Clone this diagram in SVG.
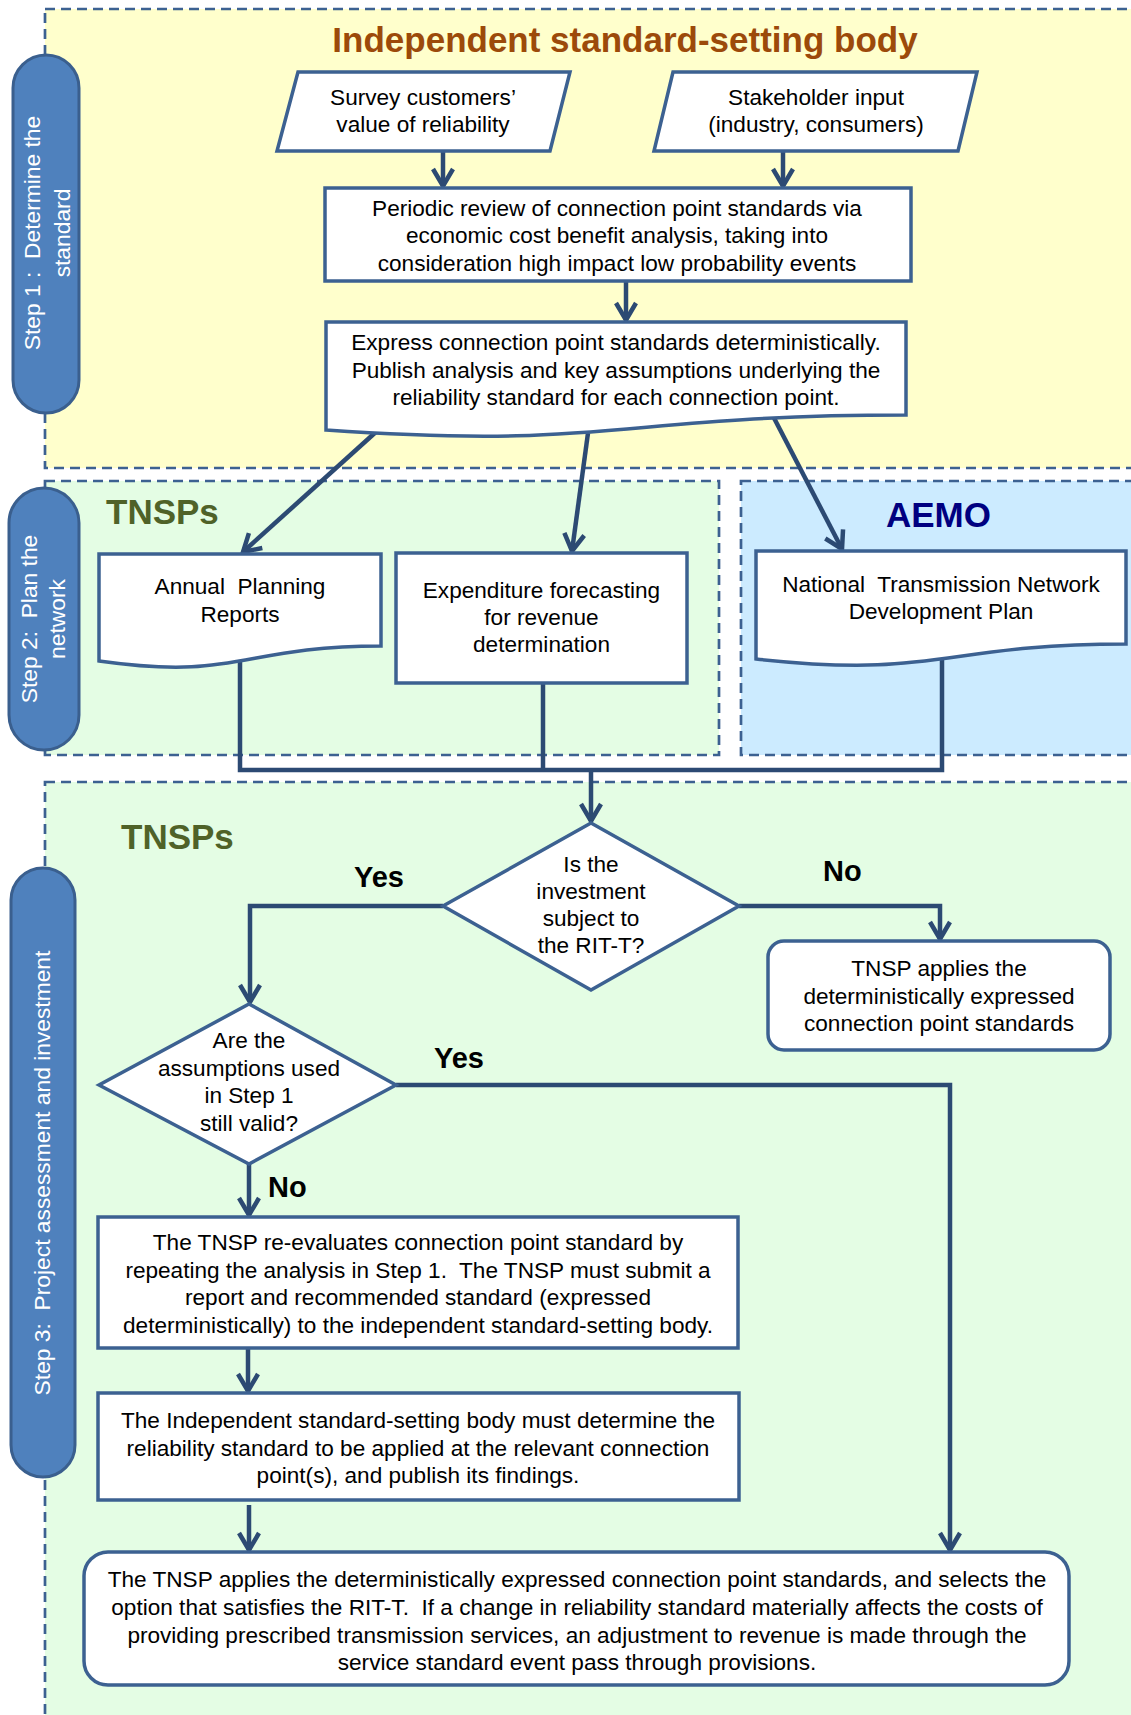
<svg xmlns="http://www.w3.org/2000/svg" width="1131" height="1715" viewBox="0 0 1131 1715">
<defs>
<style>
.region{stroke:#3C6191;stroke-width:2.7;stroke-dasharray:10 6}
.box{fill:#fff;stroke:#3C6191;stroke-width:3.5}
.pill{fill:#4F81BD;stroke:#3A5F8E;stroke-width:3}
.conn{fill:none;stroke:#2C4A73;stroke-width:4.5;stroke-linejoin:miter}
.t{font-family:"Liberation Sans",Arial,sans-serif;font-size:22.6px;fill:#000;text-anchor:middle}
.pt{font-family:"Liberation Sans",Arial,sans-serif;font-size:22.8px;fill:#fff;text-anchor:middle}
.lbl{font-family:"Liberation Sans",Arial,sans-serif;font-size:29px;font-weight:bold;fill:#000}
.hdr{font-family:"Liberation Sans",Arial,sans-serif;font-size:35px;font-weight:bold}
</style>
<marker id="arr" markerUnits="userSpaceOnUse" markerWidth="30" markerHeight="30" viewBox="-25 -15 30 30" refX="0" refY="0" orient="auto" style="overflow:visible">
<path d="M-17,-10 L0,0 L-17,10" fill="none" stroke="#2C4A73" stroke-width="4.5"/>
</marker>
</defs>
<rect width="1131" height="1715" fill="#fff"/>
<g id="regions">
<rect x="45" y="9" width="1100" height="459" fill="#FFFFCC" class="region"/>
<rect x="45" y="481" width="674" height="274" fill="#E4FDE4" class="region"/>
<rect x="741" y="481" width="400" height="274" fill="#CCEBFF" class="region"/>
<rect x="45" y="782" width="1100" height="950" fill="#E4FDE4" class="region"/>
</g>
<g id="connectors">
<path class="conn" d="M443,151 V186" marker-end="url(#arr)"/>
<path class="conn" d="M783,151 V186" marker-end="url(#arr)"/>
<path class="conn" d="M626,281 V320" marker-end="url(#arr)"/>
<path class="conn" d="M377,431 L243,552" marker-end="url(#arr)"/>
<path class="conn" d="M588,433 L572,551" marker-end="url(#arr)"/>
<path class="conn" d="M774,418 L842,549" marker-end="url(#arr)"/>
<path class="conn" d="M240,655 V770 H942 V650"/>
<path class="conn" d="M543,683 V770"/>
<path class="conn" d="M591,770 V821" marker-end="url(#arr)"/>
<path class="conn" d="M443,906 H250 V1002" marker-end="url(#arr)"/>
<path class="conn" d="M739,906 H940 V939" marker-end="url(#arr)"/>
<path class="conn" d="M396,1085 H950 V1550" marker-end="url(#arr)"/>
<path class="conn" d="M249,1164 V1215" marker-end="url(#arr)"/>
<path class="conn" d="M248,1348 V1391" marker-end="url(#arr)"/>
<path class="conn" d="M249,1505 V1550" marker-end="url(#arr)"/>
</g>
<g id="pill-step1">
<rect class="pill" x="13" y="55" width="66" height="358" rx="33"/>
<text class="pt" transform="translate(40,233) rotate(-90)"><tspan x="0" y="0">Step 1 :&#160; Determine the</tspan><tspan x="0" dy="30">standard</tspan></text>
</g>
<g id="pill-step2">
<rect class="pill" x="9" y="488" width="70" height="262" rx="35"/>
<text class="pt" transform="translate(37,619) rotate(-90)"><tspan x="0" y="0">Step 2:&#160; Plan the</tspan><tspan x="0" dy="28">network</tspan></text>
</g>
<g id="pill-step3">
<rect class="pill" x="11" y="868" width="64" height="609" rx="32"/>
<text class="pt" transform="translate(50,1173) rotate(-90)">Step 3:&#160; Project assessment and investment</text>
</g>
<g id="title">
<text class="hdr" x="625" y="52" fill="#9C4A0A" text-anchor="middle">Independent standard-setting body</text>
</g>
<g id="survey">
<polygon class="box" points="298,72 570,72 550,151 277,151"/>
<text class="t" x="423" y="105">Survey customers’</text>
<text class="t" x="423" y="132">value of reliability</text>
</g>
<g id="stakeholder">
<polygon class="box" points="673,72 977,72 958,151 654,151"/>
<text class="t" x="816" y="105">Stakeholder input</text>
<text class="t" x="816" y="132">(industry, consumers)</text>
</g>
<g id="periodic-review">
<rect class="box" x="325" y="188" width="586" height="93"/>
<text class="t" x="617" y="216">Periodic review of connection point standards via</text>
<text class="t" x="617" y="243">economic cost benefit analysis, taking into</text>
<text class="t" x="617" y="271">consideration high impact low probability events</text>
</g>
<g id="express">
<path class="box" d="M326,322 H906 V415 C616,415 616,450 326,430 Z"/>
<text class="t" x="616" y="350">Express connection point standards deterministically.</text>
<text class="t" x="616" y="378">Publish analysis and key assumptions underlying the</text>
<text class="t" x="616" y="405">reliability standard for each connection point.</text>
</g>
<g id="tnsps-label-2">
<text class="hdr" x="106" y="524" fill="#4F6228">TNSPs</text>
</g>
<g id="aemo-label">
<text class="hdr" x="886" y="527" fill="#000080">AEMO</text>
</g>
<g id="apr">
<path class="box" d="M99,554 H381 V646 C240,646 240,681 99,661 Z"/>
<text class="t" x="240" y="594">Annual&#160; Planning</text>
<text class="t" x="240" y="622">Reports</text>
</g>
<g id="expenditure">
<rect class="box" x="396" y="553" width="291" height="130"/>
<text class="t" x="541.5" y="598">Expenditure forecasting</text>
<text class="t" x="541.5" y="625">for revenue</text>
<text class="t" x="541.5" y="652">determination</text>
</g>
<g id="ntndp">
<path class="box" d="M756,551 H1126 V644 C941,644 941,679 756,659 Z"/>
<text class="t" x="941" y="592">National&#160; Transmission Network</text>
<text class="t" x="941" y="619">Development Plan</text>
</g>
<g id="tnsps-label-3">
<text class="hdr" x="121" y="849" fill="#4F6228">TNSPs</text>
</g>
<g id="decision-ritt">
<polygon class="box" points="591,823 739,906 591,990 443,906"/>
<text class="t" x="591" y="872">Is the</text>
<text class="t" x="591" y="899">investment</text>
<text class="t" x="591" y="926">subject to</text>
<text class="t" x="591" y="953">the RIT-T?</text>
</g>
<g id="edge-labels">
<text class="lbl" x="354" y="887">Yes</text>
<text class="lbl" x="823" y="881">No</text>
<text class="lbl" x="434" y="1068">Yes</text>
<text class="lbl" x="268" y="1197">No</text>
</g>
<g id="tnsp-applies">
<rect class="box" x="768" y="941" width="342" height="109" rx="16"/>
<text class="t" x="939" y="976">TNSP applies the</text>
<text class="t" x="939" y="1004">deterministically expressed</text>
<text class="t" x="939" y="1031">connection point standards</text>
</g>
<g id="decision-assumptions">
<polygon class="box" points="249,1004 396,1085 249,1164 99,1085"/>
<text class="t" x="249" y="1048">Are the</text>
<text class="t" x="249" y="1076">assumptions used</text>
<text class="t" x="249" y="1103">in Step 1</text>
<text class="t" x="249" y="1131">still valid?</text>
</g>
<g id="re-evaluate">
<rect class="box" x="98" y="1217" width="640" height="131"/>
<text class="t" x="418" y="1250">The TNSP re-evaluates connection point standard by</text>
<text class="t" x="418" y="1278">repeating the analysis in Step 1.&#160; The TNSP must submit a</text>
<text class="t" x="418" y="1305">report and recommended standard (expressed</text>
<text class="t" x="418" y="1333">deterministically) to the independent standard-setting body.</text>
</g>
<g id="determine">
<rect class="box" x="98" y="1393" width="641" height="107"/>
<text class="t" x="418" y="1428">The Independent standard-setting body must determine the</text>
<text class="t" x="418" y="1456">reliability standard to be applied at the relevant connection</text>
<text class="t" x="418" y="1483">point(s), and publish its findings.</text>
</g>
<g id="final">
<rect class="box" x="84" y="1552" width="985" height="133" rx="24"/>
<text class="t" x="577" y="1587">The TNSP applies the deterministically expressed connection point standards, and selects the</text>
<text class="t" x="577" y="1615">option that satisfies the RIT-T.&#160; If a change in reliability standard materially affects the costs of</text>
<text class="t" x="577" y="1643">providing prescribed transmission services, an adjustment to revenue is made through the</text>
<text class="t" x="577" y="1670">service standard event pass through provisions.</text>
</g>
</svg>
